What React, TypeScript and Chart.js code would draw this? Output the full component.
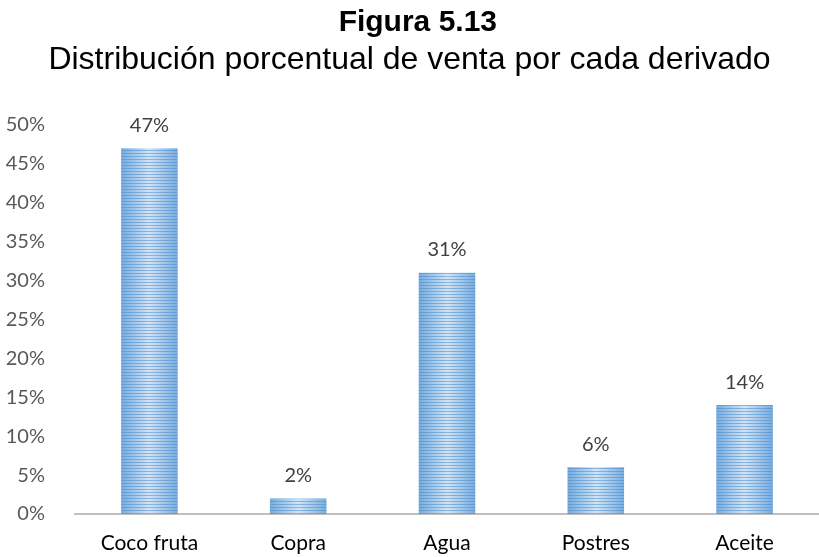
import React, { useEffect, useRef } from "react";
import { Chart, registerables } from "chart.js";

Chart.register(...registerables);

const categories = ["Coco fruta", "Copra", "Agua", "Postres", "Aceite"];
const values = [47, 2, 31, 6, 14];
const yTicks = [0, 5, 10, 15, 20, 25, 30, 35, 40, 45, 50];

const patternCache: Record<string, CanvasPattern> = {};

function stripePattern(ctx: CanvasRenderingContext2D, left: number, width: number): CanvasPattern | string {
  const w = Math.max(1, Math.round(width));
  const key = w + ":" + Math.round(left);
  if (patternCache[key]) return patternCache[key];
  const c = document.createElement("canvas");
  c.width = w;
  c.height = 3;
  const g = c.getContext("2d")!;
  const dark = g.createLinearGradient(0, 0, w, 0);
  dark.addColorStop(0, "#5b9bd5");
  dark.addColorStop(0.5, "#86b5e3");
  dark.addColorStop(1, "#5b9bd5");
  const light = g.createLinearGradient(0, 0, w, 0);
  light.addColorStop(0, "#78abdd");
  light.addColorStop(0.5, "#d3e4f5");
  light.addColorStop(1, "#78abdd");
  g.fillStyle = dark;
  g.fillRect(0, 0, w, 1);
  g.fillStyle = light;
  g.fillRect(0, 1, w, 2);
  const p = ctx.createPattern(c, "repeat");
  if (!p) return "#5b9bd5";
  p.setTransform(new DOMMatrix([1, 0, 0, 1, Math.round(left), 0]));
  patternCache[key] = p;
  return p;
}

const BAR_PCT = 0.38;

const dataLabels = {
  id: "dataLabels",
  afterDatasetsDraw(chart: any) {
    const ctx = chart.ctx;
    const meta = chart.getDatasetMeta(0);
    ctx.save();
    ctx.font = "20px Lato";
    ctx.fillStyle = "#404040";
    ctx.textAlign = "center";
    ctx.textBaseline = "middle";
    meta.data.forEach((el: any, i: number) => {
      ctx.fillText(values[i] + "%", el.x, el.y - 23);
    });
    ctx.restore();
  },
};

export default function App() {
  const ref = useRef<HTMLCanvasElement>(null);
  useEffect(() => {
    document.body.style.margin = "0";
    const chart = new Chart(ref.current!, {
      type: "bar",
      data: {
        labels: categories,
        datasets: [
          {
            data: values,
            barPercentage: BAR_PCT,
            categoryPercentage: 1,
            backgroundColor: (context: any) => {
              const ch = context.chart;
              const xs = ch.scales.x;
              if (!xs || !ch.chartArea) return "#5b9bd5";
              const step = xs.width / categories.length;
              const w = step * BAR_PCT;
              const center = xs.getPixelForValue(context.dataIndex);
              return stripePattern(ch.ctx, center - w / 2, w);
            },
            borderWidth: 0,
          },
        ],
      },
      plugins: [dataLabels],
      options: {
        animation: false,
        responsive: false,
        maintainAspectRatio: false,
        layout: { padding: { left: 0, right: 0, top: 0, bottom: 0 } },
        plugins: {
          legend: { display: false },
          tooltip: { enabled: false },
          title: {
            display: true,
            text: "\u00A0\u00A0Figura 5.13",
            color: "#000000",
            font: { family: "Liberation Sans, Arial", size: 30, weight: "bold", lineHeight: 1.2 },
            padding: { top: 5, bottom: 0 },
          },
          subtitle: {
            display: true,
            text: "Distribución porcentual de venta por cada derivado",
            color: "#000000",
            font: { family: "Liberation Sans, Arial", size: 32, lineHeight: 1.2 },
            padding: { top: 0.3, bottom: 45.3 },
          },
        },
        scales: {
          x: {
            afterFit: (s: any) => {
              s.height = 43;
            },
            grid: { display: false, drawTicks: false },
            border: { display: true, color: "#bfbfbf", width: 2 },
            ticks: {
              color: "#000000",
              font: { family: "Lato", size: 21 },
              padding: 17,
            },
          },
          y: {
            min: 0,
            max: 50,
            afterFit: (s: any) => {
              s.width = 75;
            },
            afterBuildTicks: (s: any) => {
              s.ticks = yTicks.map((v) => ({ value: v }));
            },
            grid: { display: false },
            border: { display: false },
            ticks: {
              color: "#595959",
              font: { family: "Lato", size: 20 },
              padding: 22,
              callback: (v: any) => v + "%",
            },
          },
        },
      },
    });
    return () => chart.destroy();
  }, []);
  return (
    <div style={{ position: "absolute", left: 0, top: 0, width: 819, height: 557 }}>
      <canvas ref={ref} width={819} height={557} style={{ width: 819, height: 557 }} />
    </div>
  );
}
